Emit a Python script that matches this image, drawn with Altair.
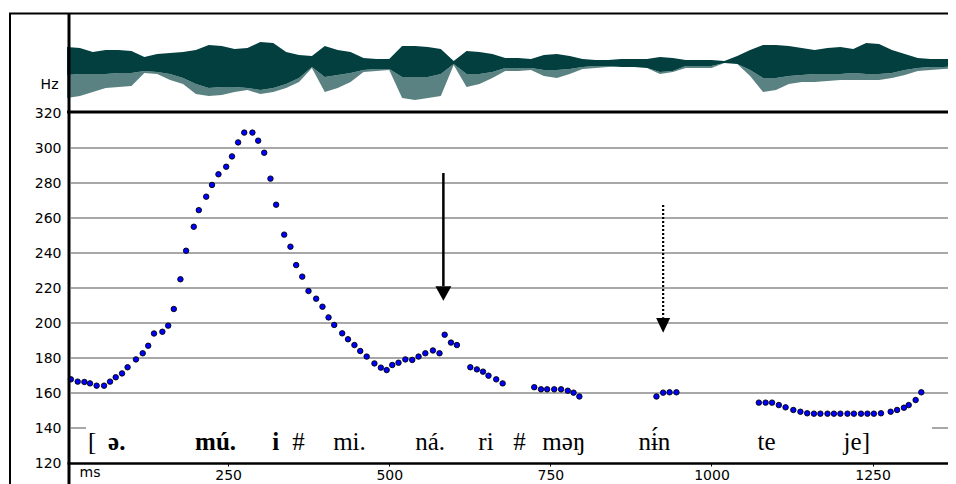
import altair as alt
import pandas as pd

# ---------------- data ----------------
# F0 track: time (ms) and pitch (Hz)
f0_ms = [6, 16.6, 27, 35.7, 46, 57.5, 66.8, 75.6, 85.4, 94, 107, 117.5, 126, 135, 148, 157,
         165.7, 176, 184.8, 196.7, 204.5, 216, 225, 235, 247, 256, 265.5, 275, 287.7, 296.6,
         306, 315.7, 324.5, 337, 346.7, 355.6, 365, 374.7, 386.6, 396.4, 405.8, 414.6, 427,
         436, 446, 455, 465, 477, 487, 496, 504.7, 514.4, 525, 535.7, 545.5, 556, 567.8, 578,
         586, 595.8, 605,
         625.8, 636, 645.5, 654, 666, 676,
         725, 735.5, 745, 756, 766.6, 777, 786, 795,
         914.6, 925, 935, 945.6,
         1073.5, 1084, 1094, 1104.5, 1115, 1127, 1138, 1148.5, 1159, 1169, 1180, 1190, 1200,
         1211, 1221, 1232, 1242, 1252, 1263, 1278, 1288, 1298.6, 1306, 1316.8, 1325.6]
f0_hz = [167.8, 166.5, 166.3, 165.5, 164.2, 164.2, 166.5, 169.0, 171.2, 174.7, 179.2, 182.7,
         187.0, 194.0, 195.0, 198.5, 208.0, 225.0, 241.3, 255.0, 264.5, 272.2, 278.9, 285.0,
         289.3, 295.2, 303.2, 308.8, 308.8, 304.2, 297.3, 282.5, 267.6, 250.5, 243.6, 233.1,
         226.5, 218.3, 213.9, 209.3, 203.2, 198.9, 194.1, 190.7, 187.4, 184.0, 180.8, 176.9,
         174.5, 173.1, 176.0, 177.3, 179.2, 178.9, 180.8, 182.7, 184.3, 182.7, 193.3, 188.8,
         187.4,
         174.7, 173.5, 172.2, 169.9, 167.8, 165.5,
         163.3, 162.1, 162.1, 162.1, 162.1, 161.3, 160.2, 158.0,
         158.0, 160.2, 160.4, 160.4,
         154.5, 154.5, 154.5, 153.1, 151.8, 150.3, 149.3, 148.4, 148.2, 148.2, 148.2, 148.2,
         148.2, 148.2, 148.2, 148.2, 148.2, 148.2, 148.4, 149.3, 150.3, 151.6, 153.1, 156.0,
         160.4]

# Waveform envelope, sampled every 20 ms (amplitudes in display units)
wave_ms = list(range(0, 1381, 20))
wave_top = [15, 14, 10, 12, 12, 11, 5, 8, 9, 10,
            12, 17, 16, 13, 14, 20, 19, 10, 7, 6,
            16, 12, 10, 4, 3, 3, 16, 16, 15, 13,
            1, 11, 10, 8, 4, 4, 3, 7, 8, 6,
            3, 2, 2, 3, 3, 3, 5, 4, 2, 2,
            2, 1, 6, 12, 17, 17, 16, 14, 12, 14,
            15, 13, 19, 18, 12, 8, 4, 3, 3, 3]
wave_bot = [13, 12, 12, 12, 11, 11, 9, 10, 12, 16,
            22, 26, 25, 25, 26, 28, 26, 22, 16, 5,
            15, 13, 11, 8, 7, 7, 15, 15, 15, 12,
            2, 12, 12, 10, 6, 6, 6, 8, 8, 7,
            5, 4, 4, 5, 5, 6, 10, 9, 4, 4,
            4, 1, 2, 8, 16, 16, 14, 13, 12, 12,
            12, 11, 12, 12, 11, 8, 6, 5, 5, 4]
wave_spike = [36, 34, 30, 26, 25, 24, 11, 12, 18, 22,
              32, 34, 33, 30, 28, 32, 30, 26, 20, 6,
              30, 26, 20, 10, 9, 8, 36, 38, 36, 34,
              3, 25, 22, 16, 9, 9, 8, 14, 16, 12,
              7, 6, 5, 5, 5, 6, 12, 10, 6, 6,
              6, 1, 2, 14, 30, 28, 22, 20, 20, 19,
              18, 18, 18, 18, 16, 13, 9, 8, 7, 6]

# Segment transcription
seg_text = ["[", "ə.", "mú.", "i", "#", "mi.", "ná.", "ri", "#", "məŋ", "nɨ́n", "te", "je]"]
seg_ms = [32.6, 63.7, 198.8, 318.3, 349.4, 413, 540.4, 638.2, 692.5, 737.6, 886.6, 1071.4, 1205]
seg_bold = [False, True, True, True, False, False, False, False, False, False, False, False, False]

# Arrows
arrow_ms = [584, 925]
arrow_from = [285.7, 267.4]
arrow_head = [221.1, 203.0]
arrow_tip = [212.7, 194.5]
arrow_style = ["solid", "dotted"]

# Axes
hz_ticks = [120, 140, 160, 180, 200, 220, 240, 260, 280, 300, 320]
hz_grid = [140, 160, 180, 200, 220, 240, 260, 280, 300]
ms_ticks = [250, 500, 750, 1000, 1250]

# ---------------- chart ----------------
W, H = 881, 450
TEAL = "#033f3f"
FONT = "DejaVu Sans"

x_scale = alt.Scale(domain=[0, 1367], nice=False, zero=False)
f0_scale = alt.Scale(domain=[120, 377.142857], nice=False, zero=False)
wave_scale = alt.Scale(domain=[-401, 49], nice=False, zero=False)

X = alt.X("ms:Q", scale=x_scale)

wave_df = pd.DataFrame({"ms": wave_ms, "top": wave_top, "bot": wave_bot, "spike": wave_spike})
wave_base = alt.Chart(wave_df).transform_calculate(nbot="-datum.bot", nspike="-datum.spike")
wave_body = wave_base.mark_area(color=TEAL, clip=True).encode(
    x=X, y=alt.Y("top:Q", scale=wave_scale, axis=None), y2="nbot:Q")
wave_spk = wave_base.mark_area(color=TEAL, opacity=0.65, clip=True).encode(
    x=X, y=alt.Y("nbot:Q", scale=wave_scale, axis=None), y2="nspike:Q")

grid_df = pd.DataFrame({"hz": hz_grid})
grid_layer = alt.Chart(grid_df).mark_rule(color="#a8a8a8", strokeWidth=2).encode(
    y=alt.Y("hz:Q", scale=f0_scale, axis=None),
    x=alt.value(4),
    x2=alt.value(W),
)

box = alt.Chart(alt.Data(values=[{}])).mark_rect(color="white").encode(
    x=alt.value(19), x2=alt.value(865), y=alt.value(405), y2=alt.value(449)
)

seg_df = pd.DataFrame({"ms": seg_ms, "t": seg_text, "bold": seg_bold})
seg_norm = alt.Chart(seg_df).transform_filter("!datum.bold").mark_text(
    font="Liberation Serif", fontSize=25, align="left", baseline="alphabetic", color="black"
).encode(x=X, y=alt.value(437), text="t:N")
seg_bold_l = alt.Chart(seg_df).transform_filter("datum.bold").mark_text(
    font="Liberation Serif", fontSize=25, fontWeight="bold", align="left",
    baseline="alphabetic", color="black"
).encode(x=X, y=alt.value(437), text="t:N")

arr_df = pd.DataFrame({"ms": arrow_ms, "a": arrow_from, "b": arrow_head, "tip": arrow_tip,
                       "style": arrow_style})
arr_solid = alt.Chart(arr_df).transform_filter("datum.style == 'solid'")
arr_dot = alt.Chart(arr_df).transform_filter("datum.style == 'dotted'")
shaft_solid = arr_solid.mark_rule(color="black", strokeWidth=2.5).encode(
    x=X, y=alt.Y("a:Q", scale=f0_scale, axis=None), y2="b:Q")
shaft_dot = arr_dot.mark_rule(color="black", strokeWidth=2.2, strokeDash=[2, 2]).encode(
    x=X, y=alt.Y("a:Q", scale=f0_scale, axis=None), y2="b:Q")
head_solid = arr_solid.mark_point(
    shape="M-1,-1.8L1,-1.8L0,0Z", filled=True, color="black", size=256, strokeWidth=0, opacity=1
).encode(x=X, y=alt.Y("tip:Q", scale=f0_scale, axis=None))
head_dot = arr_dot.mark_point(
    shape="M-1,-2.1L1,-2.1L0,0Z", filled=True, color="black", size=196, strokeWidth=0, opacity=1
).encode(x=X, y=alt.Y("tip:Q", scale=f0_scale, axis=None))

f0_df = pd.DataFrame({"ms": f0_ms, "hz": f0_hz})
points = alt.Chart(f0_df).mark_circle(
    color="#0000ff", size=30, opacity=1, stroke="black", strokeWidth=0.9, clip=True
).encode(
    x=alt.X("ms:Q", scale=x_scale, axis=alt.Axis(
        values=ms_ticks, format="d", title="ms", titleX=12, titleY=13, titleAlign="left",
        titleBaseline="alphabetic", titleFont=FONT, titleFontSize=14, titleFontWeight="normal",
        titleColor="black", labelFont=FONT, labelFontSize=14, labelColor="black",
        labelPadding=2, tickSize=3, tickColor="black", tickWidth=1, domainColor="black",
        domainWidth=2.5, grid=False, labelFlush=False, labelOverlap=False)),
    y=alt.Y("hz:Q", scale=f0_scale, axis=alt.Axis(
        values=hz_ticks, format="d", title="Hz", titleAngle=0, titleX=-9, titleY=71,
        titleAlign="right", titleBaseline="middle", titleFont=FONT, titleFontSize=14,
        titleFontWeight="normal", titleColor="black",
        labelFont=FONT, labelFontSize=14, labelColor="black", labelPadding=6,
        ticks=False, domain=False, grid=False, labelFlush=False, labelOverlap=False)),
)

one = alt.Data(values=[{}])
frame_top = alt.Chart(one).mark_rule(color="black", strokeWidth=2, clip=False).encode(
    x=alt.value(-58), x2=alt.value(W), y=alt.value(0.5))
frame_left = alt.Chart(one).mark_rule(color="black", strokeWidth=2, clip=False).encode(
    x=alt.value(-57), y=alt.value(0), y2=alt.value(480))
plot_left = alt.Chart(one).mark_rule(color="black", strokeWidth=3, clip=False).encode(
    x=alt.value(2), y=alt.value(0), y2=alt.value(480))
divider = alt.Chart(one).mark_rule(color="black", strokeWidth=3, clip=False).encode(
    x=alt.value(0), x2=alt.value(W), y=alt.value(99))

chart = alt.layer(
    grid_layer, wave_spk, wave_body, box, seg_norm, seg_bold_l,
    shaft_solid, shaft_dot, head_solid, head_dot, points,
    frame_top, frame_left, plot_left, divider,
).resolve_scale(y="independent").properties(
    width=W, height=H,
    padding={"left": 59, "top": 5, "right": 0, "bottom": 21},
    autosize=alt.AutoSizeParams(type="none"),
    background="white",
).configure_view(stroke=None)

chart.save("out.html", embed_options={"renderer": "svg", "actions": False})
